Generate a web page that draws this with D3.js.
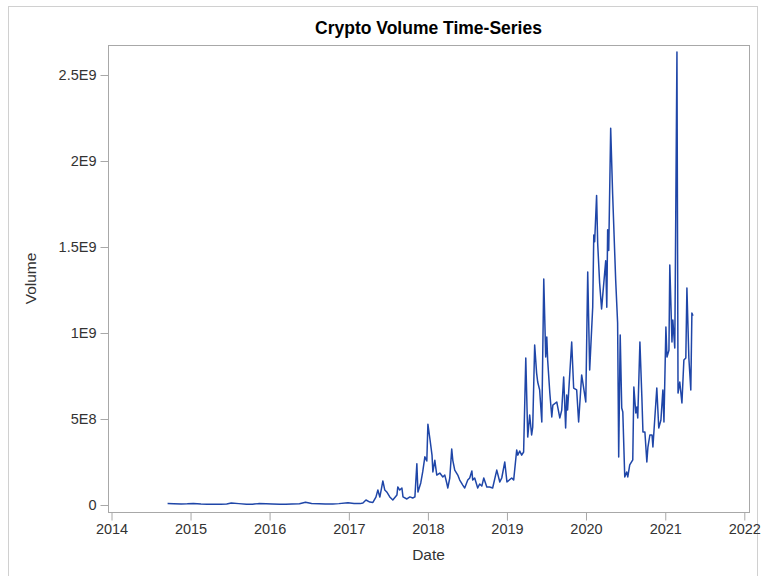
<!DOCTYPE html>
<html>
<head>
<meta charset="utf-8">
<script src="https://cdn.jsdelivr.net/npm/d3@7"></script>
<style>
  html, body { margin: 0; padding: 0; background: #fff; }
  svg { display: block; }
  text { font-family: "Liberation Sans", Arial, sans-serif; }
</style>
</head>
<body>
<svg id="chart" width="762" height="576"></svg>
<script>
// Weekly-ish trading volume observations (date, volume)
const dates = [
  "2014-09-17","2014-10-15","2014-11-19","2014-12-17","2015-01-14","2015-02-18","2015-03-18",
  "2015-04-15","2015-05-20","2015-06-17","2015-07-08","2015-08-12","2015-09-16","2015-10-14",
  "2015-11-11","2015-12-16","2016-01-13","2016-02-17","2016-03-16","2016-04-13","2016-05-18",
  "2016-06-15","2016-07-13","2016-08-17","2016-09-14","2016-10-19","2016-11-16","2016-12-28",
  "2017-01-25","2017-02-22","2017-03-07","2017-03-21","2017-04-08","2017-04-22","2017-05-06",
  "2017-05-15","2017-05-24","2017-06-02","2017-06-07","2017-06-16","2017-06-25","2017-07-09",
  "2017-07-23","2017-08-11","2017-08-15","2017-08-24","2017-09-03","2017-09-08","2017-09-26",
  "2017-10-10","2017-10-23","2017-11-02","2017-11-11","2017-11-16","2017-11-29","2017-12-08",
  "2017-12-18","2017-12-27","2018-01-01","2018-01-11","2018-01-20","2018-01-24","2018-02-02",
  "2018-02-11","2018-02-25","2018-03-11","2018-03-20","2018-03-29","2018-04-03","2018-04-12",
  "2018-04-21","2018-04-26","2018-05-05","2018-05-19","2018-05-28","2018-06-11","2018-06-20",
  "2018-07-04","2018-07-13","2018-07-23","2018-07-27","2018-08-05","2018-08-19","2018-08-28",
  "2018-09-07","2018-09-16","2018-09-30","2018-10-13","2018-10-27","2018-11-15","2018-11-29",
  "2018-12-08","2018-12-22","2019-01-01","2019-01-23","2019-02-01","2019-02-15","2019-02-20",
  "2019-03-01","2019-03-10","2019-03-19","2019-03-29","2019-04-07","2019-04-16","2019-04-25",
  "2019-04-30","2019-05-09","2019-05-18","2019-05-23","2019-06-01","2019-06-11","2019-06-20",
  "2019-06-29","2019-07-04","2019-07-08","2019-07-18","2019-07-27","2019-08-01","2019-08-19",
  "2019-09-02","2019-09-11","2019-09-20","2019-09-29","2019-10-04","2019-10-08","2019-10-27",
  "2019-11-05","2019-11-19","2019-11-28","2019-12-12","2019-12-31","2020-01-09","2020-01-18",
  "2020-02-01","2020-02-06","2020-02-10","2020-02-19","2020-02-24","2020-03-04","2020-03-13",
  "2020-04-01","2020-04-06","2020-04-10","2020-04-15","2020-04-24","2020-05-03","2020-05-17",
  "2020-05-26","2020-05-31","2020-06-07","2020-06-14","2020-06-19","2020-06-28","2020-07-07",
  "2020-07-12","2020-07-21","2020-08-04","2020-08-09","2020-08-18","2020-08-23","2020-08-27",
  "2020-09-06","2020-09-15","2020-09-20","2020-09-29","2020-10-08","2020-10-13","2020-10-22",
  "2020-11-01","2020-11-05","2020-11-23","2020-12-02","2020-12-12","2020-12-21","2020-12-26",
  "2021-01-04","2021-01-09","2021-01-18","2021-01-22","2021-02-01","2021-02-05","2021-02-14",
  "2021-02-24","2021-03-01","2021-03-09","2021-03-19","2021-03-28","2021-04-06","2021-04-11",
  "2021-04-20","2021-04-29","2021-05-04","2021-05-09"
];
const volumes = [
  8e6,7e6,6e6,7e6,9e6,6e6,5e6,
  5e6,4e6,6e6,1.1e7,8e6,5e6,5e6,
  8e6,7e6,6e6,5e6,5e6,6e6,7e6,
  1.6e7,9e6,7e6,6e6,6e6,8e6,1.3e7,
  9e6,8e6,1.2e7,2.9e7,1.7e7,1.5e7,4.6e7,
  8.7e7,4.6e7,1.05e8,1.4e8,8.7e7,7.6e7,4.7e7,
  2.9e7,5.8e7,1.05e8,8.7e7,9.9e7,4.7e7,3.5e7,
  4.7e7,4.1e7,4.7e7,2.4e8,7.6e7,1.28e8,1.92e8,
  2.8e8,2.56e8,4.7e8,3.78e8,2.9e8,1.92e8,2.6e8,
  1.74e8,1.86e8,1.63e8,1.74e8,1.28e8,9.9e7,1.57e8,
  3.25e8,2.6e8,2.03e8,1.74e8,1.45e8,1.16e8,9.9e7,
  1.45e8,1.57e8,1.98e8,1.45e8,1.57e8,9.9e7,1.22e8,
  1.1e8,1.57e8,1.05e8,1.05e8,9.9e7,2.03e8,1.34e8,
  1.57e8,2.5e8,1.34e8,1.57e8,1.45e8,3.2e8,2.9e8,
  3.14e8,2.9e8,3.08e8,8.55e8,3.95e8,5.23e8,4.07e8,
  4.53e8,9.3e8,7.67e8,7.15e8,6.69e8,4.83e8,1.314e9,
  8.6e8,9.77e8,8.43e8,6.51e8,5.12e8,5.81e8,5.99e8,
  5.06e8,5.52e8,7.44e8,4.48e8,6.4e8,5.52e8,9.48e8,
  6.8e8,6.69e8,4.83e8,7.56e8,5.99e8,1.355e9,7.85e8,
  1.15e9,1.57e9,1.53e9,1.80e9,1.52e9,1.29e9,1.14e9,
  1.42e9,1.15e9,1.6e9,1.48e9,2.19e9,1.81e9,1.31e9,
  1.06e9,2.79e8,9.88e8,5.64e8,5.41e8,1.63e8,1.92e8,
  1.63e8,2.33e8,2.62e8,6.86e8,5.35e8,5.7e8,5.06e8,
  9.48e8,6.28e8,4.24e8,4.24e8,2.5e8,3.37e8,4.07e8,
  4.07e8,3.37e8,6.8e8,4.48e8,4.94e8,6.69e8,4.83e8,
  1.035e9,8.6e8,9.0e8,1.395e9,9.48e8,1.076e9,9.13e8,
  2.634e9,6.51e8,7.15e8,5.93e8,8.43e8,8.55e8,1.262e9,
  8.55e8,6.69e8,1.116e9,1.10e9
];

const xTickYears = [2014, 2015, 2016, 2017, 2018, 2019, 2020, 2021, 2022];
const yTickValues = [0, 5e8, 1e9, 1.5e9, 2e9, 2.5e9];
const yTickLabels = ["0", "5E8", "1E9", "1.5E9", "2E9", "2.5E9"];

const parse = d3.timeParse("%Y-%m-%d");
const series = dates.map((d, i) => ({ date: parse(d), value: volumes[i] }));

const svg = d3.select("#chart");

// outer border of the graph area
svg.append("rect")
  .attr("x", 8.5).attr("y", 6.5).attr("width", 749).attr("height", 600)
  .attr("fill", "none").attr("stroke", "#d0d0d0").attr("stroke-width", 1);

const frame = { left: 108, right: 749, top: 45, bottom: 512 };

const x = d3.scaleTime()
  .domain([new Date(2014, 0, 1), new Date(2022, 0, 1)])
  .range([111.5, 744.3]);

const y = d3.scaleLinear()
  .domain([0, 2.5e9])
  .range([505, 75]);

// plot frame
svg.append("rect")
  .attr("x", frame.left + 0.5).attr("y", frame.top + 0.5)
  .attr("width", frame.right - frame.left).attr("height", frame.bottom - frame.top)
  .attr("fill", "none").attr("stroke", "#a8a8a8").attr("stroke-width", 1);

// x axis
const xAxis = d3.axisBottom(x)
  .tickValues(xTickYears.map(yr => new Date(yr, 0, 1)))
  .tickFormat(d3.timeFormat("%Y"))
  .tickSize(8)
  .tickPadding(3);

const gx = svg.append("g")
  .attr("transform", `translate(0,${frame.bottom + 0.5})`)
  .call(xAxis);
gx.select(".domain").remove();
gx.selectAll(".tick line").attr("stroke", "#a8a8a8");
gx.selectAll(".tick text")
  .attr("fill", "#333").attr("font-size", 14.5)
  .attr("font-family", "Liberation Sans, Arial, sans-serif");

// y axis
const yAxis = d3.axisLeft(y)
  .tickValues(yTickValues)
  .tickFormat((d, i) => yTickLabels[i])
  .tickSize(8)
  .tickPadding(4);

const gy = svg.append("g")
  .attr("transform", `translate(${frame.left + 0.5},0)`)
  .call(yAxis);
gy.select(".domain").remove();
gy.selectAll(".tick line").attr("stroke", "#a8a8a8");
gy.selectAll(".tick text")
  .attr("fill", "#333").attr("font-size", 14.5)
  .attr("font-family", "Liberation Sans, Arial, sans-serif");

// volume line
const line = d3.line()
  .x(d => x(d.date))
  .y(d => y(d.value));

svg.append("path")
  .datum(series)
  .attr("d", line)
  .attr("fill", "none")
  .attr("stroke", "#1f46a8")
  .attr("stroke-width", 1.5)
  .attr("stroke-linejoin", "round");

// title and axis labels
svg.append("text")
  .attr("x", (frame.left + frame.right) / 2).attr("y", 34)
  .attr("text-anchor", "middle")
  .attr("font-size", 17.5).attr("font-weight", "bold").attr("fill", "#000")
  .text("Crypto Volume Time-Series");

svg.append("text")
  .attr("x", (frame.left + frame.right) / 2).attr("y", 560)
  .attr("text-anchor", "middle")
  .attr("font-size", 15.5).attr("fill", "#333")
  .text("Date");

svg.append("text")
  .attr("transform", `translate(36,${(frame.top + frame.bottom) / 2}) rotate(-90)`)
  .attr("text-anchor", "middle")
  .attr("font-size", 15.5).attr("fill", "#333")
  .text("Volume");
</script>
</body>
</html>
